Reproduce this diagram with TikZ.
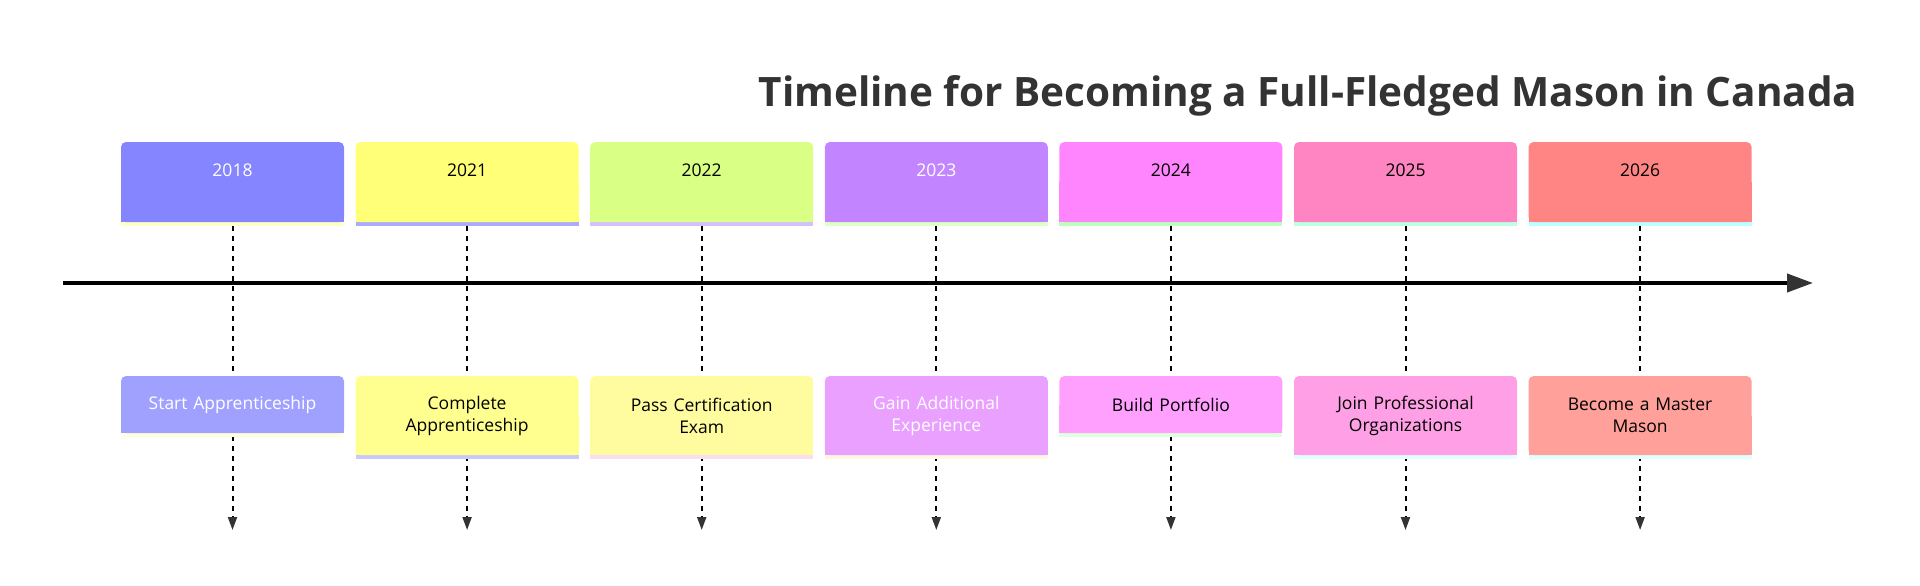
\documentclass[tikz,border=0pt]{standalone}
\usepackage{fontspec}
\setmainfont{Open Sans}
\usetikzlibrary{arrows.meta,positioning}

\definecolor{ink}{HTML}{333333}
\definecolor{yrA}{HTML}{8585FF}\definecolor{yrB}{HTML}{FFFF78}
\definecolor{yrC}{HTML}{D9FF85}\definecolor{yrD}{HTML}{C285FF}
\definecolor{yrE}{HTML}{FF85FF}\definecolor{yrF}{HTML}{FF85C2}
\definecolor{yrG}{HTML}{FF8585}
\definecolor{stA}{HTML}{FFFFC8}\definecolor{stB}{HTML}{AAAAFF}
\definecolor{stC}{HTML}{D4BFFF}\definecolor{stD}{HTML}{E0FFC8}
\definecolor{stE}{HTML}{BDFFBD}\definecolor{stF}{HTML}{BDFFE0}
\definecolor{stG}{HTML}{BDFFFF}
\definecolor{evA}{HTML}{A0A0FF}\definecolor{evB}{HTML}{FFFF8F}
\definecolor{evC}{HTML}{FFFCA0}\definecolor{evD}{HTML}{E9A0FF}
\definecolor{evE}{HTML}{FFA0FF}\definecolor{evF}{HTML}{FFA0E6}
\definecolor{evG}{HTML}{FFA09B}
\definecolor{esA}{HTML}{FFFFE0}\definecolor{esB}{HTML}{C8C8FF}
\definecolor{esC}{HTML}{FADCF5}\definecolor{esD}{HTML}{FFF8E0}
\definecolor{esE}{HTML}{E0FFE0}\definecolor{esF}{HTML}{E0FFFF}

\begin{document}
\begin{tikzpicture}[x=1pt,y=-1pt,
      font=\fontsize{17.5}{22}\selectfont,node distance=11.6pt,
      card/.style 2 args={fill=#1,rounded corners=5pt,minimum width=223pt,
                  inner sep=0pt,outer sep=0pt,text width=215pt,align=center,
                  append after command={\pgfextra{
                    \fill[#1,sharp corners] (\tikzlastnode.west) rectangle (\tikzlastnode.south east);
                    \draw[#2,line width=4pt,sharp corners] ([yshift=-2pt]\tikzlastnode.south west)
                      -- ([yshift=-2pt]\tikzlastnode.south east);}}},
      year/.style 2 args={card={#1}{#2},minimum height=80pt,text depth=24pt},
      event/.style 2 args={card={#1}{#2},minimum height=57pt},
      tall/.style={minimum height=79pt},
      axis/.style={line width=4pt,-{Triangle[length=26pt,width=18pt,color=ink]}},
      drop/.style={line width=2pt,dash pattern=on 5pt off 5pt,
                   -{Triangle[length=13pt,width=9pt,color=ink]}}]
    \useasboundingbox (0,0) rectangle (1920,586);
    \node[font=\fontsize{40.5}{46}\selectfont\bfseries,text=ink] (title) at (1308,96)
      {Timeline for Becoming a Full-Fledged Mason in Canada};

    % years
    \node[year={yrA}{stA},text=white] (y18) at (232.5,182) {2018};
    \node[year={yrB}{stB},right=of y18] (y21) {2021};
    \node[year={yrC}{stC},right=of y21] (y22) {2022};
    \node[year={yrD}{stD},right=of y22,text=white] (y23) {2023};
    \node[year={yrE}{stE},right=of y23] (y24) {2024};
    \node[year={yrF}{stF},right=of y24] (y25) {2025};
    \node[year={yrG}{stG},right=of y25] (y26) {2026};

    % axis
    \coordinate (ax0) at (63,283);
    \coordinate (ax1) at (1813,283);
    \draw[axis] (ax0)--(ax1);

    % drop lines
    \foreach \y in {18,21,22,23,24,25,26}{
      \coordinate (t\y) at ([yshift=-308pt]y\y.south);
      \draw[drop] ([yshift=-4pt]y\y.south)--(t\y);
    }

    % events
    \node[event={evA}{esA},below=154pt of y18,text=white] (e18) {Start Apprenticeship};
    \node[event={evB}{esB},tall,below=154pt of y21] (e21) {Complete\\Apprenticeship};
    \node[event={evC}{esC},tall,below=154pt of y22] (e22) {Pass Certification\\Exam};
    \node[event={evD}{esD},tall,below=154pt of y23,text=white] (e23) {Gain Additional\\Experience};
    \node[event={evE}{esE},below=154pt of y24] (e24) {Build Portfolio};
    \node[event={evF}{esF},tall,below=154pt of y25] (e25) {Join Professional\\Organizations};
    \node[event={evG}{esF},tall,below=154pt of y26] (e26) {Become a Master\\Mason};
  \end{tikzpicture}
\end{document}
